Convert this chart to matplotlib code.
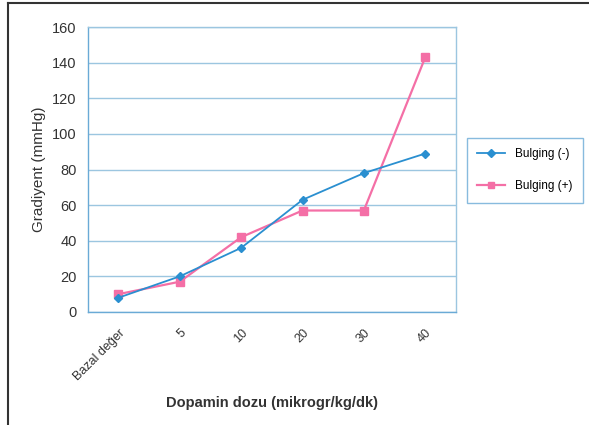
import matplotlib
matplotlib.use('Agg')
import matplotlib.pyplot as plt
from matplotlib.lines import Line2D

plt.rcParams['font.family'] = ['Liberation Sans', 'DejaVu Sans']

# dopamine dose categories
categories = ['Bazal değer', '5', '10', '20', '30', '40']
bulging_neg = [8, 20, 36, 63, 78, 89]
bulging_pos = [10, 17, 42, 57, 57, 143]
y_ticks = [0, 20, 40, 60, 80, 100, 120, 140, 160]

BLUE = '#2a8fd0'
PINK = '#f46fa6'
GRID = '#9cc6e0'

fig = plt.figure(figsize=(5.89, 4.25), dpi=100)
fig.set_facecolor('white')
ax = fig.add_axes([0.149, 0.266, 0.625, 0.67])

x = list(range(len(categories)))
ax.plot(x, bulging_pos, color=PINK, lw=1.6, marker='s', ms=6,
        mfc=PINK, mec=PINK, label='Bulging (+)', zorder=3)
ax.plot(x, bulging_neg, color=BLUE, lw=1.3, marker='D', ms=4.5,
        mfc=BLUE, mec=BLUE, label='Bulging (-)', zorder=4)

ax.set_xlim(-0.5, len(categories) - 0.5)
ax.set_ylim(0, 160)
ax.set_yticks(y_ticks)
ax.set_yticklabels([str(v) for v in y_ticks], fontsize=10.5, color='#333333')
ax.set_xticks(x)
ax.set_xticklabels(categories, rotation=45, ha='right', rotation_mode='anchor',
                   fontsize=9, color='#333333')
ax.tick_params(axis='y', length=0, pad=8)
ax.tick_params(axis='x', length=0, pad=11)
ax.yaxis.grid(True, color=GRID, lw=1.0)
ax.set_axisbelow(True)
for side in ['left', 'bottom', 'right', 'top']:
    ax.spines[side].set_color(GRID)
    ax.spines[side].set_linewidth(1.0)
ax.spines['left'].set_color('#6aaad6')
ax.spines['bottom'].set_color('#6aaad6')

ax.set_ylabel('Gradiyent (mmHg)', fontsize=11, color='#333333', labelpad=4)
ax.set_xlabel('Dopamin dozu (mikrogr/kg/dk)', fontsize=10.5, color='#333333',
              fontweight='bold', labelpad=9)

handles = [Line2D([], [], color=BLUE, lw=1.3, marker='D', ms=4),
           Line2D([], [], color=PINK, lw=1.6, marker='s', ms=5)]
leg = fig.legend(handles, ['Bulging (-)', 'Bulging (+)'], loc='upper left',
                 bbox_to_anchor=(0.782, 0.69), fontsize=8.5, frameon=True,
                 fancybox=False, edgecolor='#6aaad6', handlelength=2.4,
                 labelspacing=1.7, borderpad=0.9)
leg.get_frame().set_linewidth(1.0)

# scanned page frame
fig.add_artist(Line2D([8 / 589, 8 / 589], [0, 1 - 3 / 425], color='#333333', lw=1.5))
fig.add_artist(Line2D([8 / 589, 1], [1 - 3 / 425, 1 - 3 / 425], color='#333333', lw=1.5))

fig.savefig('out.png', dpi=100)
